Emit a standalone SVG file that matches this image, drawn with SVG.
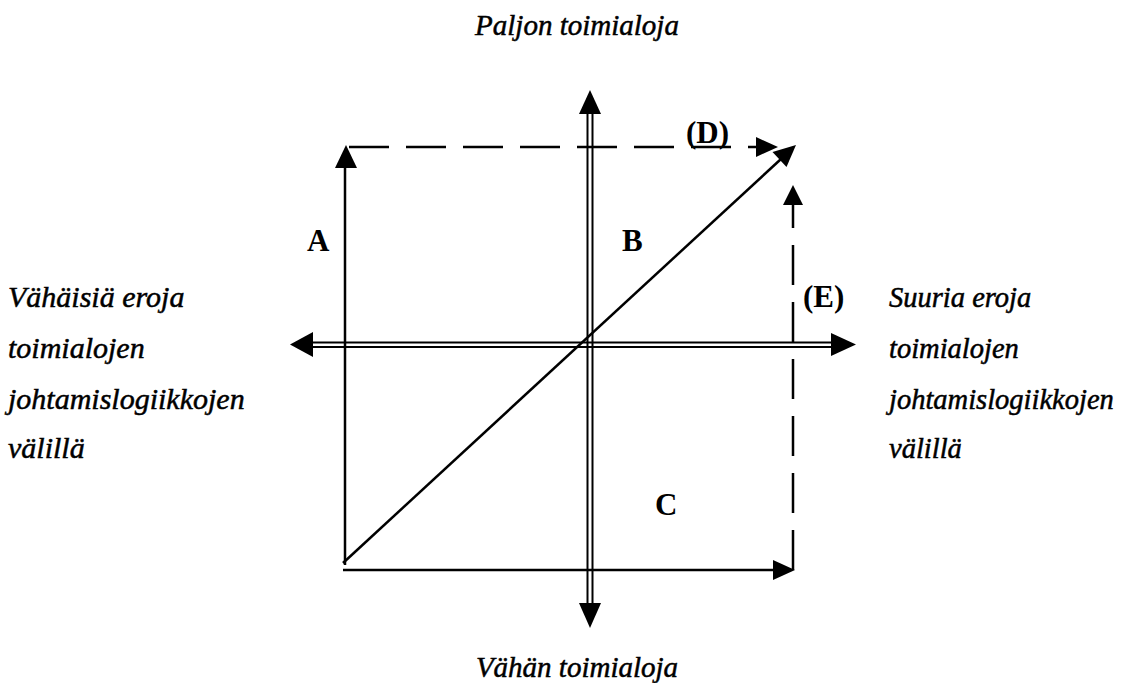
<svg xmlns="http://www.w3.org/2000/svg" width="1123" height="683" viewBox="0 0 1123 683">
<style>
.it{font-family:"Liberation Serif","Times New Roman",serif;font-style:italic;font-size:29px;fill:#000;stroke:#000;stroke-width:0.5}
.sd{font-size:30px}
.sr{font-size:28.5px}
.bd{font-family:"Liberation Serif","Times New Roman",serif;font-weight:bold;font-size:31px;fill:#000}
.ln{stroke:#000;stroke-width:2.5;fill:none}
.ax{stroke:#000;stroke-width:2;fill:none}
.dash{stroke:#000;stroke-width:2.5;fill:none;stroke-dasharray:40 17}
.ah{fill:#000;stroke:none}
</style>
<rect width="1123" height="683" fill="#fff"/>
<g id="connectors">
  <line class="ax" x1="587.5" y1="108" x2="587.5" y2="606"/>
  <line class="ax" x1="592.5" y1="108" x2="592.5" y2="606"/>
  <polygon class="ah" points="590,90 579,114 601,114"/>
  <polygon class="ah" points="590,628 579,603 601,603"/>
  <line class="ax" x1="308" y1="342.5" x2="836" y2="342.5"/>
  <line class="ax" x1="308" y1="347" x2="836" y2="347"/>
  <polygon class="ah" points="290,344.5 313,332 313,357"/>
  <polygon class="ah" points="856,344.5 831,333 831,356"/>
  <line class="ln" x1="345" y1="565" x2="345" y2="165"/>
  <polygon class="ah" points="346,145 335,168 357,168"/>
  <line class="dash" x1="346" y1="147" x2="758" y2="147" stroke-dashoffset="-3"/>
  <polygon class="ah" points="778,147 756,137 756,157"/>
  <line class="ln" x1="343" y1="563" x2="781" y2="159"/>
  <polygon class="ah" points="796,145 786.5,167 772.5,152"/>
  <line class="ln" x1="343" y1="570" x2="776" y2="570"/>
  <polygon class="ah" points="795,570 773,560 773,580"/>
  <line class="dash" x1="793" y1="570" x2="793" y2="203"/>
  <polygon class="ah" points="793,185 783,205 803,205"/>
</g>
<g id="label-top"><text class="it" x="577" y="35" text-anchor="middle">Paljon toimialoja</text></g>
<g id="label-bottom"><text class="it" x="577" y="677" text-anchor="middle">Vähän toimialoja</text></g>
<g id="label-left">
  <text class="it sd" x="8" y="307">Vähäisiä eroja</text>
  <text class="it sd" x="8" y="358">toimialojen</text>
  <text class="it sd" x="8" y="409">johtamislogiikkojen</text>
  <text class="it sd" x="8" y="458">välillä</text>
</g>
<g id="label-right">
  <text class="it sr" x="889" y="307">Suuria eroja</text>
  <text class="it sr" x="889" y="358">toimialojen</text>
  <text class="it sr" x="889" y="409">johtamislogiikkojen</text>
  <text class="it sr" x="889" y="458">välillä</text>
</g>
<g id="A"><text class="bd" x="307" y="251">A</text></g>
<g id="B"><text class="bd" x="622" y="251">B</text></g>
<g id="C"><text class="bd" x="655" y="515">C</text></g>
<g id="D"><text class="bd" x="686" y="143">(D)</text></g>
<g id="E"><text class="bd" x="803" y="307">(E)</text></g>
</svg>
